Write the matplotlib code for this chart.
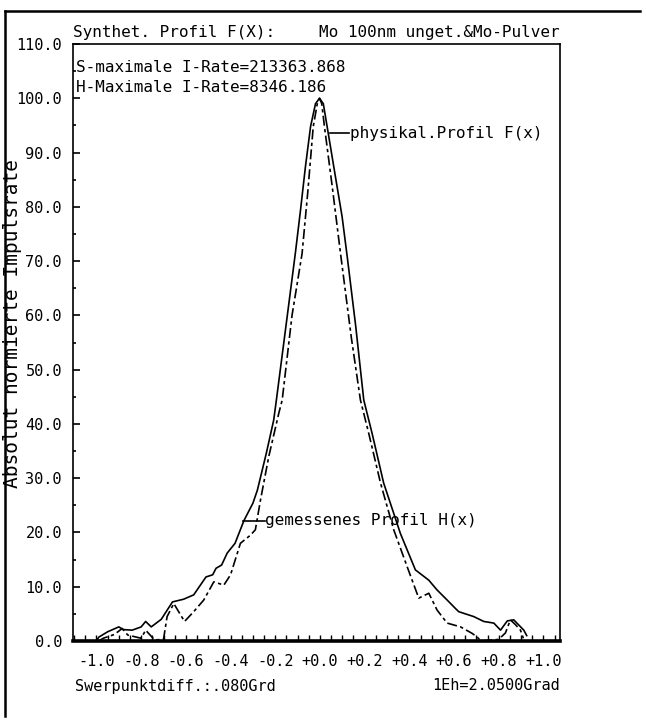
import matplotlib
matplotlib.use("Agg")
import matplotlib.pyplot as plt
from matplotlib.lines import Line2D

# profile data (x in Grad offset, y in % of max)
phys_x = [-1.00, -0.99, -0.95, -0.90, -0.88, -0.84, -0.80, -0.78, -0.755, -0.71,
          -0.66, -0.61, -0.565, -0.51, -0.48, -0.465, -0.44, -0.415, -0.38, -0.34,
          -0.30, -0.28, -0.24, -0.207, -0.195, -0.146, -0.11, -0.087, -0.065, -0.042,
          -0.02, -0.002, 0.015, 0.032, 0.069, 0.099, 0.122, 0.16, 0.196, 0.233,
          0.285, 0.36, 0.427, 0.487, 0.524, 0.569, 0.606, 0.621, 0.688, 0.733,
          0.778, 0.808, 0.838, 0.867, 0.912, 0.925]
phys_y = [0.0, 0.7, 1.7, 2.6, 2.1, 2.0, 2.6, 3.6, 2.6, 4.0,
          7.2, 7.7, 8.5, 11.8, 12.2, 13.4, 14.0, 16.2, 18.0, 22.2,
          25.4, 27.8, 34.6, 40.7, 44.4, 60.0, 71.5, 79.4, 87.4, 94.8,
          99.0, 100.0, 99.0, 94.8, 85.6, 78.2, 70.8, 58.0, 44.4, 38.3,
          29.1, 19.8, 13.1, 11.2, 9.4, 7.55, 6.0, 5.4, 4.5, 3.6,
          3.3, 2.0, 3.7, 3.9, 2.0, 1.0]

meas_x = [-0.99, -0.97, -0.92, -0.885, -0.86, -0.80, -0.78, -0.74, -0.70, -0.684,
          -0.654, -0.606, -0.565, -0.52, -0.475, -0.43, -0.40, -0.356, -0.311, -0.289,
          -0.266, -0.229, -0.184, -0.169, -0.125, -0.08, -0.055, -0.03, -0.012, -0.002,
          0.008, 0.020, 0.055, 0.092, 0.14, 0.181, 0.218, 0.271, 0.33, 0.39,
          0.442, 0.487, 0.524, 0.569, 0.629, 0.681, 0.704, 0.72, 0.80, 0.83,
          0.852, 0.875, 0.897, 0.91]
meas_y = [0.0, 0.5, 1.2, 2.3, 1.1, 0.5, 2.0, 0.2, 0.3, 4.5,
          6.9, 3.6, 5.4, 7.55, 10.9, 10.3, 12.2, 18.0, 19.5, 20.5,
          26.0, 34.0, 42.0, 44.4, 60.0, 71.4, 82.5, 94.8, 99.0, 100.0,
          99.0, 94.8, 83.7, 71.4, 56.0, 44.4, 38.3, 29.1, 20.5, 13.7,
          7.9, 8.8, 5.7, 3.3, 2.6, 1.4, 0.7, 0.0, 0.3, 1.5,
          3.9, 3.0, 2.0, 0.5]

y_ticks = [0, 10, 20, 30, 40, 50, 60, 70, 80, 90, 100, 110]
x_ticks = [-1.0, -0.8, -0.6, -0.4, -0.2, 0.0, 0.2, 0.4, 0.6, 0.8, 1.0]
x_labels = ["-1.0", "-0.8", "-0.6", "-0.4", "-0.2", "+0.0", "+0.2", "+0.4", "+0.6", "+0.8", "+1.0"]

W, H = 646, 720
mono = "DejaVu Sans Mono"
plt.rcParams['font.family'] = [mono]


def fx(x):
    return x / W


def fy(y):
    return 1 - y / H


fig = plt.figure(figsize=(W / 100, H / 100), dpi=100)
ax = fig.add_axes([fx(73), fy(641), (560 - 73) / W, (641 - 44) / H])

ax.plot(phys_x, phys_y, color="black", lw=1.2)
ax.plot(meas_x, meas_y, color="black", lw=1.2, dashes=[6, 2, 2, 2])

ax.set_xlim(-1.105, 1.074)
ax.set_ylim(0, 110)

ax.set_yticks(y_ticks)
ax.set_yticklabels(["%.1f" % v for v in y_ticks])
ax.set_yticks([v + 5 for v in y_ticks[:-1]], minor=True)
ax.set_xticks(x_ticks)
ax.set_xticklabels(x_labels)
ax.set_xticks([-1.1 + 0.05 * i for i in range(44)], minor=True)

ax.tick_params(axis="y", which="major", direction="in", length=5, width=1.2,
               labelsize=11, pad=8)
ax.tick_params(axis="y", which="minor", direction="in", length=2, width=1.2)
ax.tick_params(axis="x", which="both", direction="in", length=4, width=1.0,
               labelsize=11, pad=9)
for s in ax.spines.values():
    s.set_linewidth(1.2)
ax.spines["bottom"].set_linewidth(2.6)

# header / annotations
fig.text(fx(73), fy(33), "Synthet. Profil F(X):", fontsize=11.5, va="center", ha="left")
fig.text(fx(560), fy(33), "Mo 100nm unget.&Mo-Pulver", fontsize=11.5, va="center", ha="right")
fig.text(fx(76), fy(67), "S-maximale I-Rate=213363.868", fontsize=11.5, va="center", ha="left")
fig.text(fx(76), fy(87), "H-Maximale I-Rate=8346.186", fontsize=11.5, va="center", ha="left")

ax.plot([0.047, 0.132], [93.6, 93.6], color="black", lw=1.2)
ax.text(0.135, 93.6, "physikal.Profil F(x)", fontsize=11.5, va="center", ha="left")
ax.plot([-0.344, -0.248], [22.2, 22.2], color="black", lw=1.2)
ax.text(-0.245, 22.2, "gemessenes Profil H(x)", fontsize=11.5, va="center", ha="left")

fig.text(fx(13), fy(324), "Absolut normierte Impulsrate", rotation=90, fontsize=14,
         va="center", ha="center")
fig.text(fx(75), fy(686), "Swerpunktdiff.:.080Grd", fontsize=11, va="center", ha="left")
fig.text(fx(560), fy(686), "1Eh=2.0500Grad", fontsize=11, va="center", ha="right")

# outer frame of the printout
fig.add_artist(Line2D([fx(5), fx(5)], [fy(11), fy(716)], color="black", lw=1.8))
fig.add_artist(Line2D([fx(5), fx(640)], [fy(11), fy(11)], color="black", lw=1.8))

fig.savefig("out.png", dpi=100)
